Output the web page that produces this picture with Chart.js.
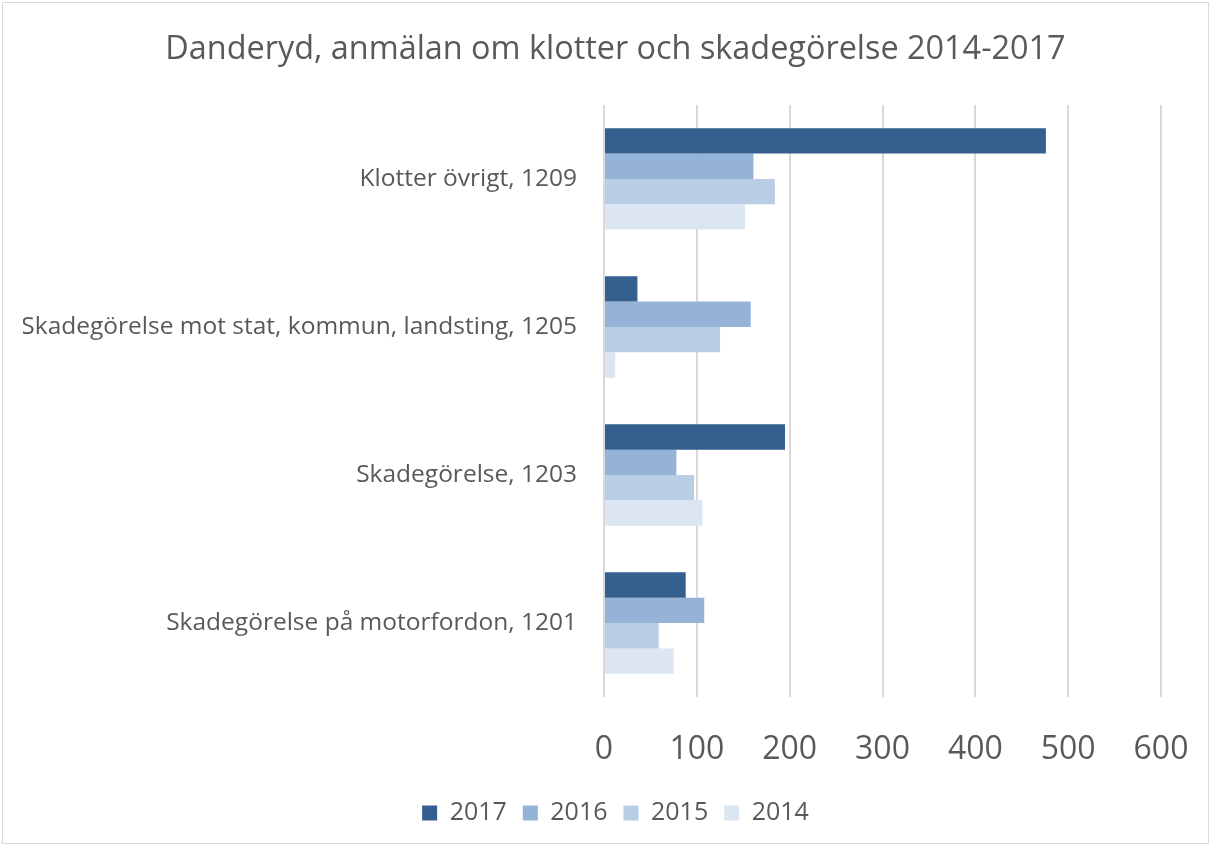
<!DOCTYPE html>
<html>
<head>
<meta charset="utf-8">
<script src="https://cdn.jsdelivr.net/npm/chart.js@4"></script>
<style>
  body { margin: 0; background: #fff; }
  #wrap { position: absolute; left: 2px; top: 2px; width: 1205px; height: 840px; border: 1px solid #d9d9d9; }
</style>
</head>
<body>
<div id="wrap"><canvas id="can"></canvas></div>
<script>
var categories = [
  "Klotter övrigt, 1209",
  "Skadegörelse mot stat, kommun, landsting, 1205",
  "Skadegörelse, 1203",
  "Skadegörelse på motorfordon, 1201"
];
var years = ["2017", "2016", "2015", "2014"];
var v2017 = [476, 36, 195, 88];
var v2016 = [161, 158, 78, 108];
var v2015 = [184, 125, 97, 59];
var v2014 = [152, 12, 106, 75];
var colors = ["#355f8f", "#95b3d7", "#b9cde5", "#dce6f2"];
var txt = "#595959";
var fam = "'Open Sans', sans-serif";

function makebar(can, title) {
  var ctx = document.getElementById(can).getContext("2d");
  var vals = [v2017, v2016, v2015, v2014];
  var sets = years.map(function (y, i) {
    return {
      label: y,
      data: vals[i],
      backgroundColor: colors[i],
      borderWidth: 0,
      categoryPercentage: 0.685,
      barPercentage: 1
    };
  });
  return new Chart(ctx, {
    type: "bar",
    data: { labels: categories, datasets: sets },
    options: {
      indexAxis: "y",
      responsive: true,
      maintainAspectRatio: false,
      animation: false,
      layout: { padding: { left: 20, right: 0, top: 10, bottom: 7.5 } },
      plugins: {
        title: {
          display: true,
          text: title,
          color: txt,
          font: { family: fam, size: 32.4, weight: "normal" },
          padding: { top: 17, bottom: 36 }
        },
        legend: {
          position: "bottom",
          labels: {
            color: txt,
            font: { family: fam, size: 25 },
            boxWidth: 15,
            boxHeight: 15,
            padding: 16
          }
        },
        tooltip: { enabled: false }
      },
      scales: {
        x: {
          min: 0,
          max: 600,
          ticks: { stepSize: 100, color: txt, font: { family: fam, size: 32 }, padding: 15 },
          // invisible tick marks just push the labels down
          grid: { color: "#d9d9d9", lineWidth: 2, tickLength: 19, tickColor: "rgba(0,0,0,0)" },
          border: { display: false },
          afterFit: function (s) { s.paddingRight = 47; }
        },
        y: {
          ticks: { color: txt, font: { family: fam, size: 24.5 }, padding: 27 },
          grid: { display: false, drawTicks: false },
          border: { display: false },
          afterFit: function (s) { s.width = 581; }
        }
      }
    }
  });
}
document.getElementById("can").parentNode.style.height = "840px";
makebar("can", "Danderyd, anmälan om klotter och skadegörelse 2014-2017");
</script>
</body>
</html>
